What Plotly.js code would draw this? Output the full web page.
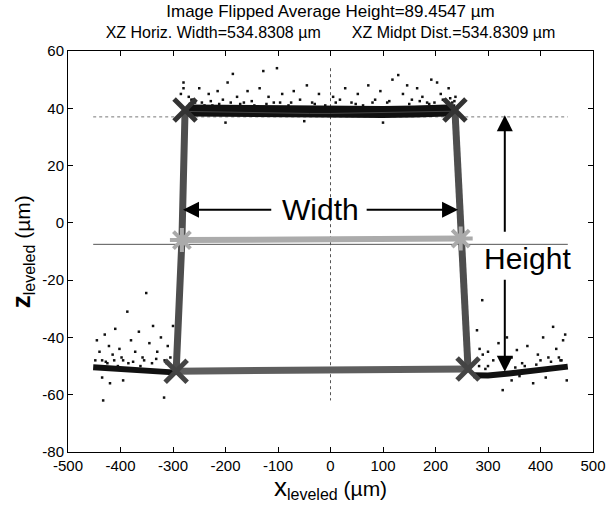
<!DOCTYPE html>
<html>
<head>
<meta charset="utf-8">
<script src="https://cdn.plot.ly/plotly-3.0.1.min.js"></script>
<style>html,body{margin:0;padding:0;background:#fff;}#chart{width:608px;height:508px;}</style>
</head>
<body>
<div id="chart"></div>
<script>
// ---- data ----
const xTicks = [-500,-400,-300,-200,-100,0,100,200,300,400,500];
const yTicks = [-80,-60,-40,-20,0,20,40,60];

// dense measured profile bands
const topBandX = [-272,-220,-160,-100,-40,0,40,100,160,200,238];
const topBandY = [39.2,39.0,38.8,38.6,38.5,38.5,38.6,38.7,38.9,39.1,39.3];
const leftBandX = [-452,-420,-380,-340,-300];
const leftBandY = [-50.4,-50.8,-51.2,-51.7,-52.2];
const rightBandX = [272,300,340,380,420,452];
const rightBandY = [-53.2,-53.3,-52.6,-51.8,-51.0,-50.2];

// scattered outlier points
const outX = [-285,-280,-270,-262,-250,-245,-232,-225,-215,-205,-196,-186,-178,-165,-158,-145,-135,-128,-118,-108,-102,-92,-80,-70,-58,-45,-35,-22,-10,5,18,28,40,52,62,72,85,95,108,118,129,138,146,155,165,175,184,192,203,210,218,225,232,238,-200,-50,100,
  -268,-258,-240,-228,-212,-190,-172,-150,-122,-96,-75,-30,10,48,80,112,150,170,188,198,214,222,228,236,-280,-265,
  -445,-440,-435,-430,-422,-415,-410,-402,-395,-387,-380,-372,-365,-358,-351,-345,-338,-330,-323,-316,-310,-305,-300,-435,-420,-395,-433,-317,-425,-405,-385,-362,-340,
  -448,-428,-412,-398,-376,-355,-332,-312,
  289,279,336,355,424,443,328,386,450,300,310,320,345,365,375,395,405,415,430,440,447,290,283,345,360,410,300,330,370,400,435,
  295,352,392,420,438,284];
const outY = [45,49,44,43,47,42,45,41,46,43,49,52,44,42,46,41,47,53,44,42,54,45,41,46,43,48,42,45,41,44,43,47,42,45,41,48,43,46,42,50,51.6,45,48,43,47,44,42,50,49,45,43,47,42,44,35,35.5,35,
  41.5,42,41,42.5,41.5,42,41.5,42.5,41.5,42,42,41.5,42,41.5,42,42.5,41.5,42.5,41.5,42,43,42,43.5,42.5,47,43,
  -41,-45,-48,-39,-43,-46,-37,-44,-48,-31,-41,-45,-38,-47,-24.5,-42,-36,-45,-40,-48,-43,-47,-36,-54,-56,-55,-62,-61,-49,-50,-49,-50,-49,
  -48,-48.5,-48,-47,-48.5,-48,-47.5,-49,
  -27,-37.5,-40,-44.4,-36.3,-41,-58.4,-56,-55,-45,-48,-42,-47,-49,-43,-46,-40,-47,-44,-48,-39,-46,-50,-55,-53.5,-54,-50,-49,-50,-48,-47,
  -51,-50.5,-49.5,-48.5,-48,-44];

// fitted outline corners
const sideLeftX = [-277,-283,-294];
const sideLeftY = [39.4,-6,-51.8];
const sideRightX = [237,248,262];
const sideRightY = [39.4,-5.5,-51.0];
const bottomX = [-294,262];
const bottomY = [-51.8,-51.0];
const midX = [-283,248];
const midY = [-6,-5.5];
const topCornerX = [-277,237];
const topCornerY = [39.4,39.4];
const botCornerX = [-294,262];
const botCornerY = [-51.8,-51.0];

// reference lines
const refTopX = [-452,452], refTopY = [37,37];
const refMidX = [-452,452], refMidY = [-7.5,-7.5];
const refVertX = [0,0], refVertY = [54,-62];

const font = "Arial, 'Liberation Sans', sans-serif";

const traces = [
  {x: refTopX, y: refTopY, mode:'lines', line:{color:'#777', width:1, dash:'dot'}},
  {x: refMidX, y: refMidY, mode:'lines', line:{color:'#555', width:1}},
  {x: refVertX, y: refVertY, mode:'lines', line:{color:'#555', width:1, dash:'dot'}},
  {x: outX, y: outY, mode:'markers', marker:{color:'#111', size:2.5, symbol:'square'}},
  {x: topBandX, y: topBandY, mode:'lines', line:{color:'#111', width:12}},
  {x: topBandX, y: topBandY.map(v=>v-0.3), mode:'lines', line:{color:'#444', width:1}},
  {x: leftBandX, y: leftBandY, mode:'lines', line:{color:'#111', width:6}},
  {x: rightBandX, y: rightBandY, mode:'lines', line:{color:'#111', width:6}},
  {x: sideLeftX, y: sideLeftY, mode:'lines', line:{color:'#4e4e4e', width:7}},
  {x: sideRightX, y: sideRightY, mode:'lines', line:{color:'#4e4e4e', width:7}},
  {x: bottomX, y: bottomY, mode:'lines', line:{color:'#5e5e5e', width:7}},
  {x: midX, y: midY, mode:'lines+markers', line:{color:'#ababab', width:6},
   marker:{symbol:'asterisk-open', size:20, color:'#aaa', line:{color:'#aaa', width:4}}},
  {x: topCornerX, y: topCornerY, mode:'markers',
   marker:{symbol:'x-thin-open', size:22, color:'#333', line:{color:'#333', width:5}}},
  {x: botCornerX, y: botCornerY, mode:'markers',
   marker:{symbol:'x-thin-open', size:22, color:'#444', line:{color:'#444', width:5}}}
];

const arrowCommon = {showarrow:true, arrowhead:2, arrowsize:1.6, arrowwidth:2, arrowcolor:'#000',
  axref:'x', ayref:'y', text:''};

const layout = {
  width:608, height:508,
  margin:{l:68, r:15, t:51, b:56},
  paper_bgcolor:'#fff', plot_bgcolor:'#fff',
  showlegend:false,
  font:{family:font, color:'#000', size:13},
  title:{text:'<span style="font-size:17px">Image Flipped Average Height=89.4547 µm</span><br>XZ Horiz. Width=534.8308 µm\u00a0\u00a0\u00a0\u00a0\u00a0\u00a0\u00a0XZ Midpt Dist.=534.8309 µm',
    x:0.5, xref:'paper', xanchor:'center', y:0.966, yref:'container', yanchor:'top',
    font:{family:font, size:16, color:'#000'}},
  xaxis:{range:[-500,500], tickvals:xTicks, ticktext:xTicks.map(String),
    ticks:'inside', ticklen:5, tickcolor:'#000', showline:true, linecolor:'#000', linewidth:1,
    mirror:'ticks', showgrid:false, zeroline:false, tickfont:{family:font, size:15}},
  yaxis:{range:[-80,60], tickvals:yTicks, ticktext:yTicks.map(String),
    ticks:'inside', ticklen:5, tickcolor:'#000', showline:true, linecolor:'#000', linewidth:1,
    mirror:'ticks', showgrid:false, zeroline:false, tickfont:{family:font, size:15}},
  annotations:[
    Object.assign({x:-281, y:4.6, ax:-110, ay:4.6}, arrowCommon),
    Object.assign({x:243, y:4.6, ax:66, ay:4.6}, arrowCommon),
    {x:-20, y:4.6, text:'Width', showarrow:false, font:{family:font, size:30, color:'#000'}},
    Object.assign({x:332, y:37.6, ax:332, ay:-3.6}, arrowCommon),
    Object.assign({x:332, y:-52, ax:332, ay:-19.3}, arrowCommon),
    {x:376, y:-12.5, text:'Height', showarrow:false, font:{family:font, size:30, color:'#000'}},
    {xref:'paper', yref:'paper', x:0.5, y:-0.088, xanchor:'center', yanchor:'middle',
     text:'<span style="font-size:26px">x</span><sub><span style="font-size:16px">leveled</span></sub> (µm)',
     showarrow:false, font:{family:font, size:21, color:'#000'}},
    {xref:'paper', yref:'paper', x:-0.088, y:0.5, xanchor:'center', yanchor:'middle', textangle:-90,
     text:'<span style="font-size:26px"><b>z</b></span><sub><span style="font-size:16px">leveled</span></sub> (µm)',
     showarrow:false, font:{family:font, size:21, color:'#000'}}
  ]
};

Plotly.newPlot('chart', traces, layout, {displayModeBar:false, staticPlot:true});
</script>
</body>
</html>
